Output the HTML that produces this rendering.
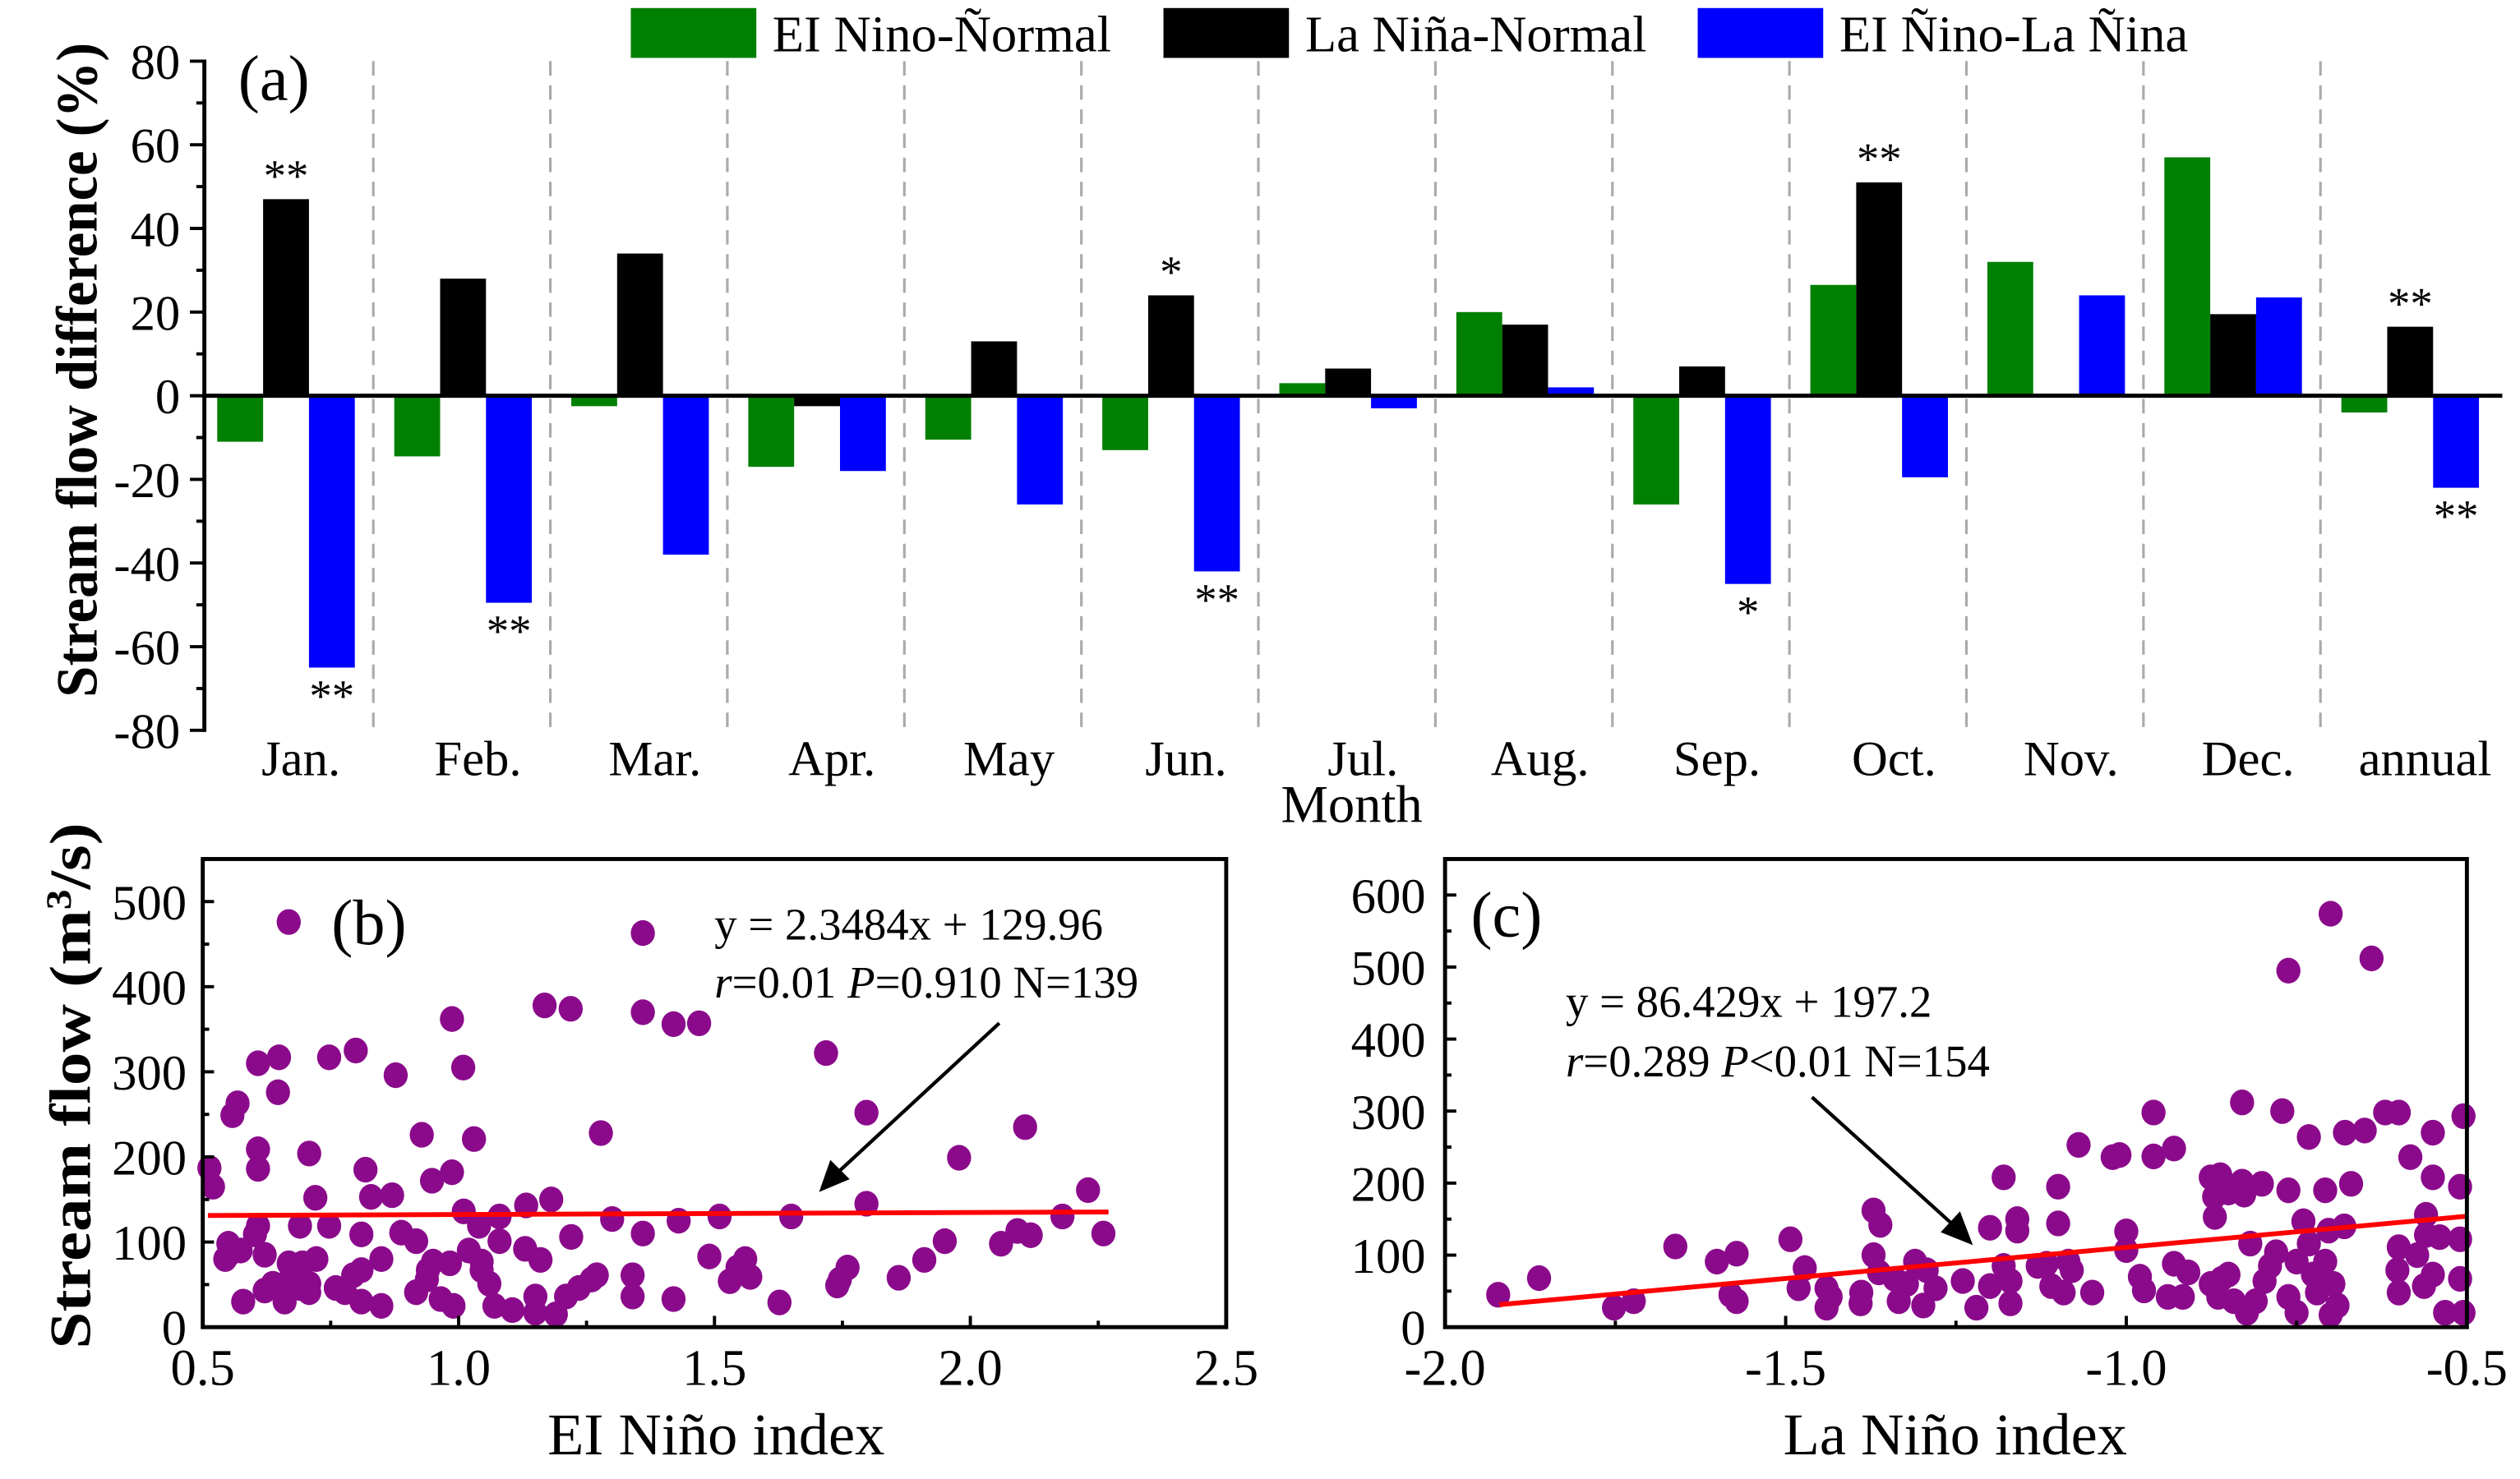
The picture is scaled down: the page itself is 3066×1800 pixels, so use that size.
<!DOCTYPE html>
<html><head><meta charset="utf-8"><style>
html,body{margin:0;padding:0;background:#fff}
svg{display:block}
svg text{font-family:"Liberation Serif","Times New Roman",serif;fill:#000}
</style></head><body>
<svg id="fig" width="3066" height="1800" viewBox="0 0 1566 919.4" preserveAspectRatio="none" xmlns="http://www.w3.org/2000/svg" font-family="Liberation Serif, serif">
<g id="pa"></g>
<g id="pb"></g>
<g id="pc"></g>
</svg>
<script>
// ---- Panel (a) data ----
const months = ["Jan.","Feb.","Mar.","Apr.","May","Jun.","Jul.","Aug.","Sep.","Oct.","Nov.","Dec.","annual"];
const elNinoNormal = [-11,-14.5,-2.5,-17,-10.5,-13,3,20,-26,26.5,32,57,-4];
const laNinaNormal = [47,28,34,-2.5,13,24,6.5,17,7,51,0.5,19.5,16.5];
const elNinoLaNina = [-65,-49.5,-38,-18,-26,-42,-3,2,-45,-19.5,24,23.5,-22];
const starsLaNina = ["**","","","","","*","","","","**","","","**"];
const starsElLa = ["**","**","","","","**","","","*","","","","**"];
const aTicks = [-80,-60,-40,-20,0,20,40,60,80];
// ---- Panel (b) data ----
const bX = [0.668,1.36,1.168,1.219,1.36,1.42,1.47,0.987,1.009,0.799,0.747,0.649,0.608,0.877,0.647,0.568,0.558,1.718,1.797,2.107,1.278,0.928,1.03,0.608,0.608,0.708,0.513,0.52,0.818,0.987,0.948,1.978,0.72,0.829,0.87,1.181,1.132,1.797,2.23,2.26,2.18,2.118,2.092,2.06,1.95,1.91,1.86,1.76,1.745,1.74,1.65,1.51,1.43,1.30,1.36,1.22,1.08,1.01,1.04,1.08,1.13,1.16,1.02,1.045,1.045,1.06,1.07,1.105,1.15,1.15,1.19,1.21,1.235,1.26,1.27,1.34,1.34,1.42,1.49,1.53,1.545,1.56,1.57,1.627,0.983,0.95,0.94,0.938,0.917,0.965,0.99,0.917,0.888,0.849,0.849,0.81,0.81,0.794,0.778,0.81,0.76,0.747,0.722,0.708,0.708,0.695,0.69,0.668,0.668,0.66,0.668,0.621,0.621,0.608,0.602,0.579,0.574,0.55,0.544,0.55,0.637,0.69];
const bY = [476,463,378,374,370,356,357,362,305,325,317,317,310,296,276,263,249,322,252,235,228,226,221,209,186,204,187,165,185,182,172,199,152,153,155,150,143,145,161,110,130,108,113,98,101,79,58,70,56,49,130,130,125,127,110,106,130,136,119,101,92,79,90,77,67,51,25,20,17,36,15,36,46,56,61,61,36,33,83,54,70,80,59,29,75,77,67,56,41,33,25,101,111,80,25,109,67,61,41,30,46,119,80,51,41,75,119,75,54,30,43,85,43,119,109,30,90,98,80,85,51,46];
const bFit = [2.3484,129.96];
const bXTicks = ["0.5","1.0","1.5","2.0","2.5"];
const bYTicks = [0,100,200,300,400,500];
// ---- Panel (c) data ----
const cX = [-1.922,-1.862,-1.752,-1.723,-1.662,-1.601,-1.572,-1.581,-1.572,-1.493,-1.472,-1.481,-1.44,-1.434,-1.44,-1.389,-1.39,-1.371,-1.361,-1.371,-1.363,-1.34,-1.334,-1.322,-1.31,-1.293,-1.298,-1.28,-1.24,-1.22,-1.2,-1.2,-1.18,-1.18,-1.17,-1.17,-1.16,-1.16,-1.13,-1.117,-1.1,-1.1,-1.11,-1.092,-1.085,-1.08,-1.07,-1.05,-1.02,-1.01,-1.0,-1.0,-0.98,-0.974,-0.96,-0.96,-0.93,-0.93,-0.909,-0.939,-0.917,-0.876,-0.862,-0.871,-0.87,-0.85,-0.83,-0.827,-0.801,-0.83,-0.876,-0.865,-0.86,-0.85,-0.842,-0.823,-0.818,-0.81,-0.797,-0.789,-0.78,-0.771,-0.762,-0.762,-0.762,-0.75,-0.75,-0.74,-0.732,-0.732,-0.726,-0.72,-0.708,-0.708,-0.7,-0.703,-0.7,-0.69,-0.696,-0.68,-0.679,-0.67,-0.65,-0.64,-0.62,-0.6,-0.6,-0.602,-0.6,-0.583,-0.573,-0.563,-0.56,-0.56,-0.55,-0.55,-0.55,-0.54,-0.532,-0.51,-0.51,-0.51,-0.505,-0.505];
const cY = [45,68,27,36,112,91,102,45,36,122,82,54,54,42,27,48,33,162,142,100,76,67,36,60,91,79,30,54,64,27,138,57,208,85,64,33,150,134,85,88,195,144,57,48,91,79,253,48,236,239,133,107,70,51,298,237,248,88,76,42,42,208,211,181,153,187,202,184,199,312,60,42,67,73,36,20,116,36,64,85,104,300,495,190,42,91,20,147,264,116,73,48,190,91,574,134,17,30,60,140,270,199,273,512,298,298,111,79,48,236,100,57,156,128,208,270,73,125,20,195,122,67,293,20];
const cFit = [86.429,197.2];
const cXTicks = ["-2.0","-1.5","-1.0","-0.5"];
const cYTicks = [0,100,200,300,400,500,600];

const NS="http://www.w3.org/2000/svg";
function mk(parent,tag,attrs,txt){const e=document.createElementNS(NS,tag);for(const k in attrs)e.setAttribute(k,attrs[k]);if(txt!==undefined)e.textContent=txt;parent.appendChild(e);return e;}

// ===== Panel A =====
const pa=document.getElementById('pa');
const aY=v=>246-v*2.6, aL=127, aR=1555;
const grpX=i=>135+110*i, bw=28.5;
for(let i=0;i<12;i++){
  const l=mk(pa,'line',{x1:232+110*i,x2:232+110*i,y1:38,y2:453,stroke:'#aaa','stroke-width':1.6,'stroke-dasharray':'9,6'});
  
  
}
const series=[[elNinoNormal,'#008000','bar-elnino-normal'],[laNinaNormal,'#000','bar-lanina-normal'],[elNinoLaNina,'#0000ff','bar-elnino-lanina']];
series.forEach((s,si)=>{
  s[0].forEach((v,i)=>{
    const x=grpX(i)+si*bw, y0=aY(0), y1=aY(v);
    const r=mk(pa,'rect',{x:x,y:Math.min(y0,y1),width:bw,height:Math.abs(y1-y0),fill:s[1]});
    
    
  });
});
laNinaNormal.forEach((v,i)=>{ if(starsLaNina[i]){const t=mk(pa,'text',{x:grpX(i)+bw*1.5,y:aY(v)-5,'text-anchor':'middle','font-size':28},starsLaNina[i]);
  
  }});
elNinoLaNina.forEach((v,i)=>{ if(starsElLa[i]){const t=mk(pa,'text',{x:grpX(i)+bw*2.5,y:aY(v)+27,'text-anchor':'middle','font-size':28},starsElLa[i]);
  
  }});
mk(pa,'line',{x1:aL,x2:aR,y1:aY(0),y2:aY(0),stroke:'#000','stroke-width':2.5});
mk(pa,'line',{x1:aL,x2:aL,y1:aY(80)-1,y2:aY(-80)+1,stroke:'#000','stroke-width':2.5});
for(let v=-80;v<=80;v+=10){ const major=v%20===0; mk(pa,'line',{x1:aL-(major?9:5),x2:aL,y1:aY(v),y2:aY(v),stroke:'#000','stroke-width':2}); }
aTicks.forEach(v=>{const t=mk(pa,'text',{x:112,y:aY(v)+11,'text-anchor':'end','font-size':31},String(v));
  
  });
months.forEach((m,i)=>{const t=mk(pa,'text',{x:187+110*i,y:482,'text-anchor':'middle','font-size':31},m);
  
  });
(function(){const t=mk(pa,'text',{x:840,y:511,'text-anchor':'middle','font-size':33},'Month');

const y=mk(pa,'text',{x:0,y:0,'text-anchor':'middle','font-size':36,'font-weight':'bold',transform:'translate(60,230) rotate(-90)',textLength:407,lengthAdjust:'spacingAndGlyphs'},'Stream flow difference (%)');

const p=mk(pa,'text',{x:148,y:62,'font-size':40},'(a)');

const leg=[[392,'#008000','EI Nino-Ñormal'],[723,'#000','La Niña-Normal'],[1055,'#0000ff','EI Ñino-La Ñina']];
leg.forEach(l=>{const g=mk(pa,'g',{});

mk(g,'rect',{x:l[0],y:5,width:78,height:31,fill:l[1]});
mk(g,'text',{x:l[0]+88,y:32,'font-size':32},l[2]);});
})();

// ===== scatter panel builder =====
function scatter(g,cfg){
  const X=v=>cfg.L+(v-cfg.x0)/(cfg.x1-cfg.x0)*(cfg.R-cfg.L);
  const Y=v=>cfg.B-(v-cfg.y0)/(cfg.y1-cfg.y0)*(cfg.B-cfg.T);
  cfg.xs.forEach((x,i)=>{const c=mk(g,'ellipse',{cx:X(x),cy:Y(cfg.ys[i]),rx:7.5,ry:8,fill:'#8b0a8b'});
    
    });
  const fl=mk(g,'line',{x1:X(cfg.fx0),y1:Y(cfg.fit[0]*cfg.fx0+cfg.fit[1]),x2:X(cfg.fx1),y2:Y(cfg.fit[0]*cfg.fx1+cfg.fit[1]),stroke:'#ff0000','stroke-width':3});
  
  
  const fr=mk(g,'rect',{x:cfg.L,y:cfg.T,width:cfg.R-cfg.L,height:cfg.B-cfg.T,fill:'none',stroke:'#000','stroke-width':2.5});
  
  
  for(let v=cfg.y0;v<=cfg.y1;v+=cfg.ym){const major=(v%cfg.yM)===0; mk(g,'line',{x1:cfg.L,x2:cfg.L+(major?7:4),y1:Y(v),y2:Y(v),stroke:'#000','stroke-width':2});}
  for(let k=0;k<=cfg.xn;k++){const v=cfg.x0+k*(cfg.x1-cfg.x0)/cfg.xn; mk(g,'line',{x1:X(v),x2:X(v),y1:cfg.B,y2:cfg.B-(k%2===0?7:4),stroke:'#000','stroke-width':2});}
  cfg.yt.forEach(v=>{const t=mk(g,'text',{x:cfg.yr,y:Y(v)+11,'text-anchor':'end','font-size':31},String(v));
    
    });
  cfg.xt.forEach(s=>{const t=mk(g,'text',{x:X(parseFloat(s)),y:861,'text-anchor':'middle','font-size':32},s);
    
    });
  return {X,Y};
}
const pb=document.getElementById('pb');
scatter(pb,{L:126,R:762,T:534,B:825,x0:0.5,x1:2.5,y0:0,y1:550,ym:50,yM:100,xn:8,xs:bX,ys:bY,fit:bFit,fx0:0.51,fx1:2.27,yt:bYTicks,xt:bXTicks,yr:116});
(function(){
const t1=mk(pb,'text',{x:444,y:584,'font-size':28},'y = 2.3484x + 129.96');
const t2=mk(pb,'text',{x:444,y:620,'font-size':28});
t2.innerHTML='<tspan font-style="italic">r</tspan>=0.01 <tspan font-style="italic">P</tspan>=0.910 N=139';
mk(pb,'line',{x1:621,y1:636,x2:514,y2:735,stroke:'#000','stroke-width':2.2});
const a=mk(pb,'path',{d:'M509,741 L516,721 L528,733 Z',fill:'#000'});
const p=mk(pb,'text',{x:206,y:587,'font-size':40},'(b)');
const xt=mk(pb,'text',{x:445,y:904,'text-anchor':'middle','font-size':37},'EI Niño index');
const yt=mk(pb,'text',{x:0,y:0,'text-anchor':'middle','font-size':36,'font-weight':'bold',transform:'translate(56,675) rotate(-90)',textLength:327,lengthAdjust:'spacingAndGlyphs'});
yt.innerHTML='Stream flow (m<tspan font-size="22" dy="-12">3</tspan><tspan dy="12">/s)</tspan>';

})();
const pc=document.getElementById('pc');
scatter(pc,{L:898,R:1533,T:534,B:825,x0:-2,x1:-0.5,y0:0,y1:650,ym:50,yM:100,xn:6,xs:cX,ys:cY,fit:cFit,fx0:-1.92,fx1:-0.5,yt:cYTicks,xt:cXTicks,yr:886});
(function(){
const t1=mk(pc,'text',{x:973,y:632,'font-size':28},'y = 86.429x + 197.2');
const t2=mk(pc,'text',{x:973,y:669,'font-size':28});
t2.innerHTML='<tspan font-style="italic">r</tspan>=0.289 <tspan font-style="italic">P</tspan>&lt;0.01 N=154';
mk(pc,'line',{x1:1126,y1:682,x2:1221,y2:768,stroke:'#000','stroke-width':2.2});
const a=mk(pc,'path',{d:'M1226,774 L1206,766 L1218,753 Z',fill:'#000'});
const p=mk(pc,'text',{x:914,y:582,'font-size':40},'(c)');
const xt=mk(pc,'text',{x:1215,y:904,'text-anchor':'middle','font-size':37},'La Niño index');
})();
</script>
</body></html>
